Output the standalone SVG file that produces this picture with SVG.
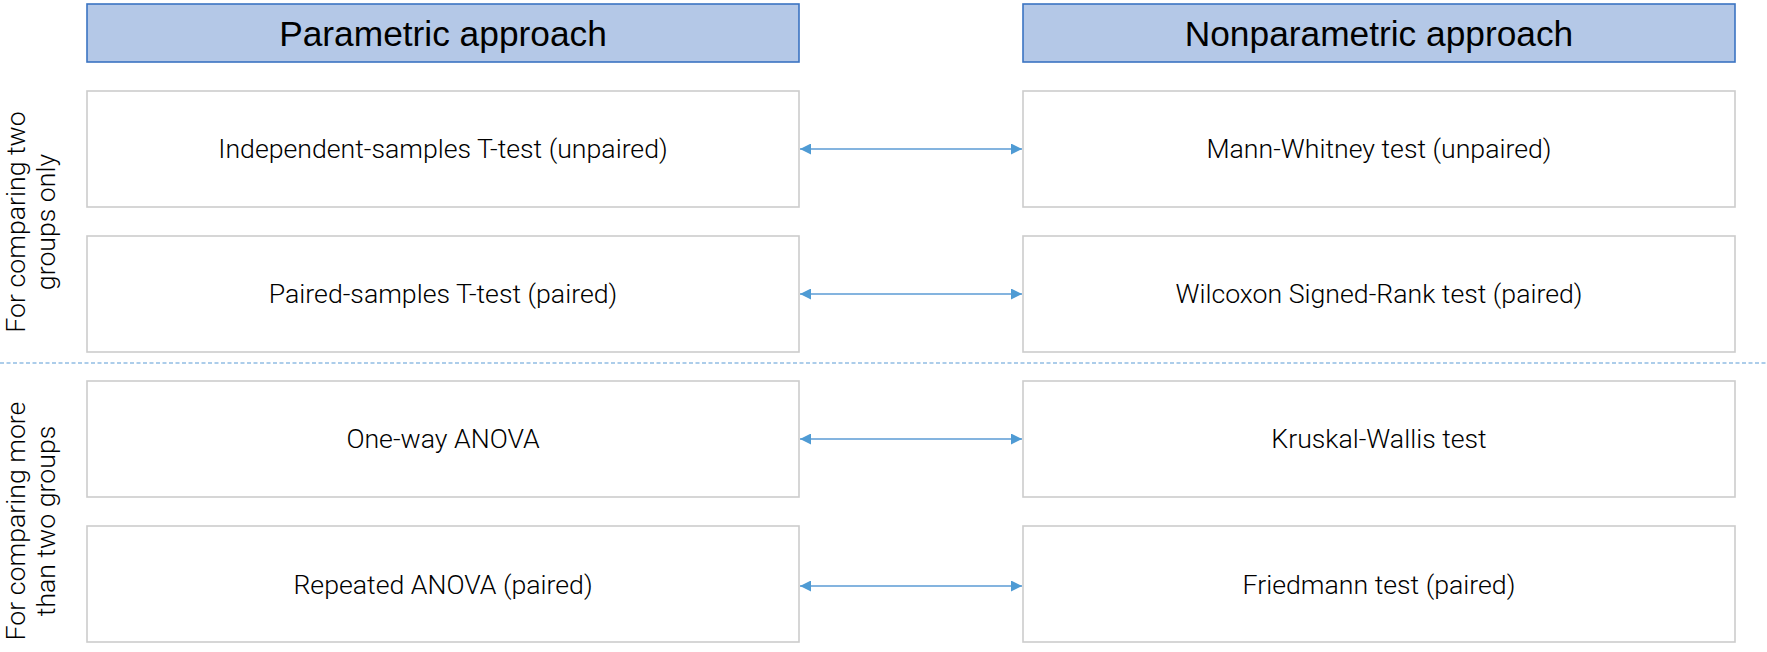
<svg xmlns="http://www.w3.org/2000/svg" width="1767" height="652" viewBox="0 0 1767 652">
<style>
.hdr{fill:#b4c8e7;stroke:#3b74c2;stroke-width:1.6}
.hdrt{font-family:"Liberation Sans",Arial,sans-serif;font-size:35.3px;fill:#000;text-anchor:middle}
.box{fill:#fff;stroke:#cccccc;stroke-width:1.6}
.bt{font-family:Roboto,"Liberation Sans",sans-serif;font-weight:300;font-size:26.7px;fill:#000;text-anchor:middle}
.side{font-family:Roboto,"Liberation Sans",sans-serif;font-weight:300;font-size:26.7px;fill:#000;text-anchor:middle}
.conn{stroke:#5b9bd5;stroke-width:1.4;fill:none}
.sep{stroke:#5b9bd5;stroke-width:1.2;stroke-dasharray:4 2.5;fill:none}
</style>
<defs>
<marker id="ah" viewBox="0 0 11 11" refX="11" refY="5.5" markerWidth="11" markerHeight="11" markerUnits="userSpaceOnUse" orient="auto-start-reverse">
<path d="M0,0 L11,5.5 L0,11 Z" fill="#4f9bd4"/>
</marker>
</defs>
<rect width="1767" height="652" fill="#fff"/>
<g id="hdr-param"><rect class="hdr" x="87" y="4" width="712" height="58"/><text class="hdrt" x="443" y="46">Parametric approach</text></g>
<g id="hdr-nonparam"><rect class="hdr" x="1023" y="4" width="712" height="58"/><text class="hdrt" x="1379" y="46">Nonparametric approach</text></g>
<g id="label-two"><text class="side" transform="translate(25,222) rotate(-90)">For comparing two</text><text class="side" transform="translate(55,222) rotate(-90)">groups only</text></g>
<g id="label-more"><text class="side" transform="translate(25,521) rotate(-90)">For comparing more</text><text class="side" transform="translate(55,521) rotate(-90)">than two groups</text></g>
<g id="p1"><rect class="box" x="87" y="91" width="712" height="116"/><text class="bt" x="443" y="158">Independent-samples T-test (unpaired)</text></g>
<g id="n1"><rect class="box" x="1023" y="91" width="712" height="116"/><text class="bt" x="1379" y="158">Mann-Whitney test (unpaired)</text></g>
<g id="p2"><rect class="box" x="87" y="236" width="712" height="116"/><text class="bt" x="443" y="303">Paired-samples T-test (paired)</text></g>
<g id="n2"><rect class="box" x="1023" y="236" width="712" height="116"/><text class="bt" x="1379" y="303">Wilcoxon Signed-Rank test (paired)</text></g>
<g id="p3"><rect class="box" x="87" y="381" width="712" height="116"/><text class="bt" x="443" y="448">One-way ANOVA</text></g>
<g id="n3"><rect class="box" x="1023" y="381" width="712" height="116"/><text class="bt" x="1379" y="448">Kruskal-Wallis test</text></g>
<g id="p4"><rect class="box" x="87" y="526" width="712" height="116"/><text class="bt" x="443" y="594">Repeated ANOVA (paired)</text></g>
<g id="n4"><rect class="box" x="1023" y="526" width="712" height="116"/><text class="bt" x="1379" y="594">Friedmann test (paired)</text></g>
<g id="connectors">
<line class="sep" x1="0" y1="363" x2="1767" y2="363"/>
<line class="conn" x1="800" y1="149" x2="1022" y2="149" marker-start="url(#ah)" marker-end="url(#ah)"/>
<line class="conn" x1="800" y1="294" x2="1022" y2="294" marker-start="url(#ah)" marker-end="url(#ah)"/>
<line class="conn" x1="800" y1="439" x2="1022" y2="439" marker-start="url(#ah)" marker-end="url(#ah)"/>
<line class="conn" x1="800" y1="586" x2="1022" y2="586" marker-start="url(#ah)" marker-end="url(#ah)"/>
</g>
</svg>
